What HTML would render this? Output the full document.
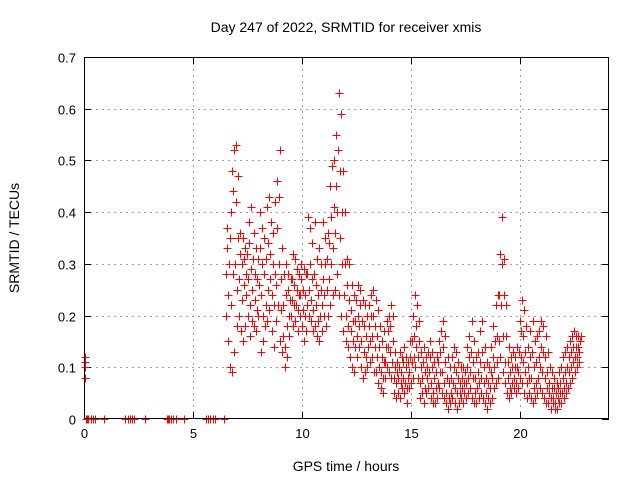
<!DOCTYPE html>
<html><head><meta charset="utf-8"><style>
body{margin:0;background:#fff;}
svg{display:block;font-family:"Liberation Sans",sans-serif;}
</style></head><body>
<svg id="chart" width="640" height="480">
<text x="346" y="32" text-anchor="middle" font-size="14">Day 247 of 2022, SRMTID for receiver xmis</text>
<text x="19" y="238" text-anchor="middle" font-size="14" transform="rotate(-90 19 238)">SRMTID / TECUs</text>
<text x="346" y="471" text-anchor="middle" font-size="14">GPS time / hours</text>
<g id="grid"></g>
<g id="ticks"></g>
<g id="marks"></g>
<rect x="84.5" y="57.5" width="524" height="361" fill="none" stroke="#000" stroke-width="1" shape-rendering="crispEdges"/>
</svg>
<script>
const xTicks=[0,5,10,15,20];
const yTicks=[0,0.1,0.2,0.3,0.4,0.5,0.6,0.7];
const yTickLabels=["0","0.1","0.2","0.3","0.4","0.5","0.6","0.7"];
const tStart=6.5, tStep=0.1;
const v1=[20,15,10,9,13,18,20,17,15,18,20,16,19,18,17,20,13,15,18,19,21,17,14,19,22,15,13,10,12,16,20,18,19,17,20,18,15,17,20,19,17,18,16,15,17,20,18,20,22,24,25,28,24,20,17,15,14,12,10,9,12,14,10,8,9,10,11,12,9,9,7,6,5,8,10,9,8,5,4,5,4,6,5,3,6,7,8,10,8,4,5,3,5,6,4,3,3,4,6,5,4,3,2,3,4,3,2,3,4,3,4,5,6,4,3,3,4,5,4,3,2,3,4,6,7,8,12,9,7,5,4,5,6,5,6,8,7,5,4,5,4,3,4,5,6,5,4,3,3,2,3,2,2,3,3,4,5,6,7,8,9,10,11];
const v2=[28,24,22,28,30,25,27,23,26,24,27,22,25,23,21,26,24,20,22,25,27,24,22,26,30,21,16,14,18,20,23,22,22,21,24,21,20,22,25,23,21,22,19,20,22,24,25,27,30,33,36,40,35,30,24,20,18,17,15,14,16,18,15,13,12,14,15,16,14,12,10,9,8,11,14,13,11,8,7,8,7,8,7,6,9,11,12,14,12,7,8,6,8,9,7,5,6,7,9,9,7,5,4,5,7,6,5,5,6,5,7,8,9,8,5,6,7,8,7,5,4,6,8,10,11,15,22,16,11,8,6,7,8,7,9,12,11,9,7,8,8,6,7,8,10,9,8,6,5,4,4,3,4,5,5,6,7,9,10,11,12,12,13];
const v3=[33,30,40,44,42,35,32,30,31,28,34,29,31,28,27,33,30,28,31,34,32,30,28,37,43,27,22,24,25,23,27,26,25,24,27,25,24,28,30,27,28,26,24,25,27,30,31,34,39,41,45,52,48,40,30,26,23,21,19,19,20,22,19,18,16,18,20,20,18,16,14,12,11,14,17,18,15,10,9,10,9,11,10,8,12,15,16,18,15,10,11,9,10,12,10,8,9,11,13,14,11,8,7,8,10,9,8,7,8,7,10,12,13,11,8,9,11,13,10,8,7,9,12,15,16,24,30,24,16,11,9,10,10,10,13,17,16,13,10,12,13,10,11,12,14,13,12,9,7,6,6,5,6,7,8,9,10,12,13,14,14,14,15];
const v4=[37,35,48,52,53,47,36,35,33,32,38,41,36,33,31,40,37,35,41,43,38,36,42,46,52,33,28,30,28,27,32,31,29,28,30,29,28,39,37,34,38,31,33,30,38,35,36,45,49,50,55,63,59,48,40,31,30,26,24,23,26,25,23,22,20,22,24,25,23,21,18,15,17,19,20,22,20,13,11,13,12,14,12,11,15,20,24,22,19,13,14,12,13,15,13,11,12,15,17,19,16,12,10,12,14,13,11,10,10,9,14,16,19,15,12,13,17,19,14,11,10,14,18,22,24,32,39,31,22,14,12,13,12,14,19,23,21,18,14,17,19,15,16,17,19,18,16,13,10,9,8,7,9,10,12,13,14,15,16,17,16,16,16];
const earlyTimes=[0.05,0.05,0.05,0.05];
const earlyValues=[0.08,0.10,0.11,0.12];
const zeroTimes=[0.1,0.15,0.2,0.3,0.4,0.5,0.9,1.9,2.0,2.1,2.2,2.3,2.8,3.8,3.85,3.9,4.0,4.1,4.2,4.6,5.6,5.7,5.8,5.9,6.0,6.4];

const L=84,R=609,T=57,B=419,XMAX=24.08,YMAX=0.7;
const X=t=>L+t/XMAX*(R-L);
const Y=v=>B-v/YMAX*(B-T);
const NS="http://www.w3.org/2000/svg";
function mk(tag,parent,attrs){const e=document.createElementNS(NS,tag);for(const k in attrs)e.setAttribute(k,attrs[k]);parent.appendChild(e);return e;}
const grid=document.getElementById('grid'),ticks=document.getElementById('ticks'),marks=document.getElementById('marks');
xTicks.forEach(t=>{const x=Math.round(X(t))+0.5;
 if(t>0){const g=mk('line',grid,{x1:x,x2:x,y1:T,y2:B,stroke:'#a0a0a0','stroke-dasharray':'2,4','shape-rendering':'crispEdges'});
 
 }
 const a=mk('path',ticks,{d:`M${x},${B}v-7M${x},${T}v7`,stroke:'#000','shape-rendering':'crispEdges'});
 
 
 const tx=mk('text',ticks,{x:x,y:B+19,'text-anchor':'middle','font-size':'13'});tx.textContent=t;
 
 
});
yTicks.forEach((v,i)=>{const y=Math.round(Y(v))+0.5;
 if(v>0&&v<YMAX){const g=mk('line',grid,{x1:L,x2:R,y1:y,y2:y,stroke:'#a0a0a0','stroke-dasharray':'2,4','shape-rendering':'crispEdges'});
 
 }
 const a=mk('path',ticks,{d:`M${L},${y}h7M${R},${y}h-7`,stroke:'#000','shape-rendering':'crispEdges'});
 
 
 const tx=mk('text',ticks,{x:L-8,y:y+5,'text-anchor':'end','font-size':'13'});tx.textContent=yTickLabels[i];
 
 
});
let d='';
function plus(t,v){const x=Math.round(X(t))+0.5,y=Math.round(Y(v))+0.5;d+=`M${x-4},${y}h8M${x},${y-4}v8`;}
[v1,v2,v3,v4].forEach((arr,k)=>arr.forEach((v,i)=>plus(tStart+i*tStep+k*0.025,v/100)));
earlyTimes.forEach((t,i)=>plus(t,earlyValues[i]));
zeroTimes.forEach(t=>plus(t,0));
const p=mk('path',marks,{d:d,stroke:'#ff0000','stroke-width':'1',fill:'none','shape-rendering':'crispEdges'});


</script>
</body></html>
